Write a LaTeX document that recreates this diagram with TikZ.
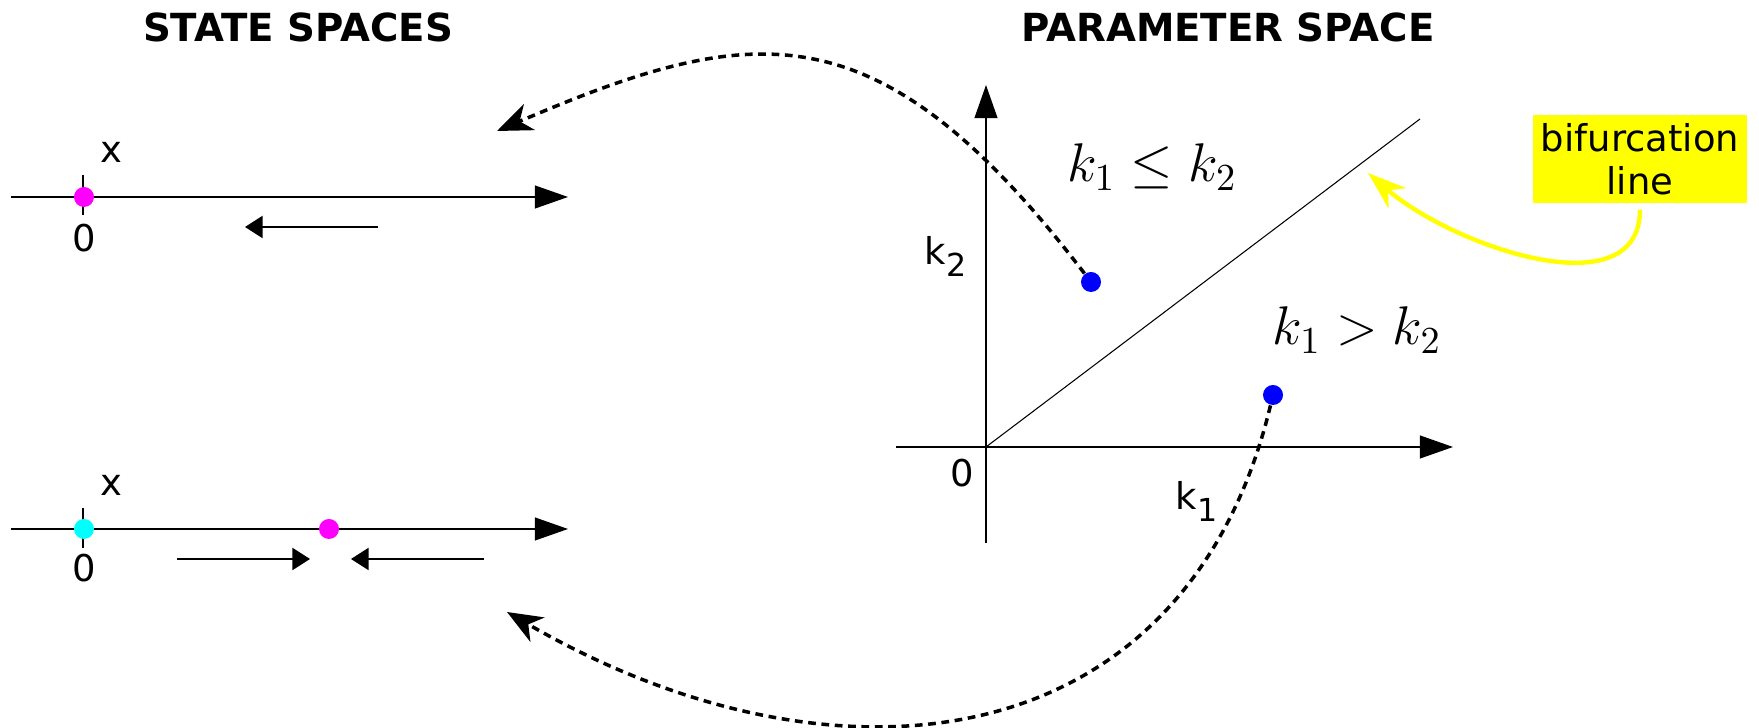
\RequirePackage{fix-cm}
\documentclass[tikz,border=0pt]{standalone}
\usepackage{fontspec}
\setmainfont{DejaVu Sans}
\usetikzlibrary{arrows.meta}

\definecolor{fixmagenta}{RGB}{255,0,255}
\definecolor{fixcyan}{RGB}{0,255,255}
\definecolor{parblue}{RGB}{0,0,255}
\definecolor{bifyellow}{RGB}{255,255,0}

\newcommand{\ksub}[1]{\raisebox{-3.4pt}{\fontsize{9}{9}\selectfont #1}}

\begin{document}
\begin{tikzpicture}[x=0.01cm, y=-0.01cm,
    every node/.style={font=\fontsize{10.5}{12.3}\selectfont},
    axis/.style={line width=0.4pt, -{Triangle[length=9.4pt,width=6.5pt]}},
    flow/.style={line width=0.4pt, -{Triangle[length=5pt,width=6.3pt]}},
    dot/.style={circle, inner sep=0pt, minimum size=0.2cm},
    jump/.style={line width=1pt, dash pattern=on 2.2pt off 1.6pt, -{Stealth[length=10pt,width=8pt,inset=3pt]}},
    title/.style={font=\fontsize{11}{13}\selectfont\bfseries, anchor=base},
    rel/.style={font=\fontsize{15.5}{18}\selectfont, anchor=base}]

    \useasboundingbox (0,0) rectangle (1759,728);

    % Titles
    \node[title] (t_state) at (298,42) {STATE SPACES};
    \node[title] (t_param) at (1228,42) {PARAMETER SPACE};

    % State space (upper)
    \draw[axis] (11,197) -- (568,197);
    \draw (83,175) -- (83,215);
    \node (x_a) at (111,152) {x};
    \node (o_a) at (84,238) {0};
    \node[dot, fill=fixmagenta] (zero_a) at (84,197) {};
    \draw[flow] (378,227) -- (245,227);

    % State space (lower)
    \draw[axis] (11,529) -- (568,529);
    \draw (83,508) -- (83,548);
    \node (x_b) at (111,485) {x};
    \node (o_b) at (84,568) {0};
    \node[dot, fill=fixcyan] (zero_b) at (84,529) {};
    \node[dot, fill=fixmagenta] (fix_b) at (329,529) {};
    \draw[flow] (177,559) -- (310,559);
    \draw[flow] (484,559) -- (351,559);

    % Parameter plane
    \draw[axis] (896,447) -- (1453,447);
    \draw[axis] (986,543) -- (986,85);
    \draw[line width=0.3pt] (986,447) -- (1420,119);
    \node (o_p) at (962,473) {0};
    \node[anchor=base west, inner sep=0pt] (k_1) at (1175,510) {k\ksub{1}};
    \node[anchor=base west, inner sep=0pt] (k_2) at (924,265) {k\ksub{2}};
    \node[rel] (r_a) at (1152,182) {$k_1 \le k_2$};
    \node[rel] (r_b) at (1357,345) {$k_1 > k_2$};
    \node[dot, fill=parblue] (par_a) at (1091,282) {};
    \node[dot, fill=parblue] (par_b) at (1273,395) {};

    % Bifurcation label
    \node[fill=bifyellow, align=center, minimum width=2.14cm, minimum height=0.88cm, inner sep=1pt] (bif) at (1640,159) {bifurcation\\line};
    \coordinate (bif_tip) at (1368,173);
    \draw[bifyellow, line width=1.25pt, shorten <=1.7pt, -{Stealth[length=11pt,width=7.6pt,inset=3.5pt]}]
        (bif) .. controls (1640,310) and (1455,248) .. (bif_tip);

    % Jumps: parameter point -> state space
    \coordinate (tip_a) at (497,131);
    \coordinate (tip_b) at (507,612);
    \draw[jump] (par_a) .. controls (878,4) and (754,21) .. (tip_a);
    \draw[jump] (par_b) .. controls (1184,765) and (831,800) .. (tip_b);

\end{tikzpicture}
\end{document}
